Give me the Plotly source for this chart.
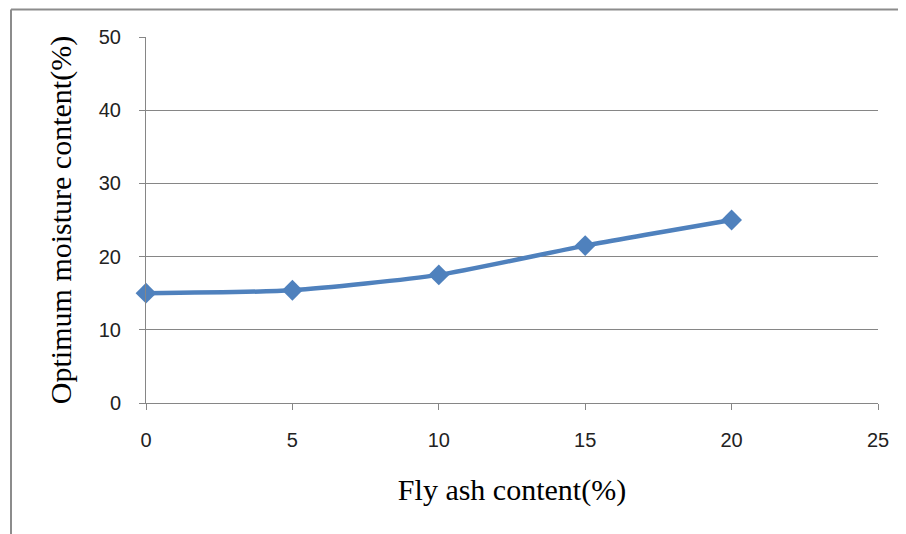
import plotly.graph_objects as go

fly_ash = [0, 5, 10, 15, 20]
moisture = [15.0, 15.4, 17.5, 21.5, 25.0]
x_ticks = [0, 5, 10, 15, 20, 25]
y_ticks = [0, 10, 20, 30, 40, 50]

# the page body adds an 8px offset, so the figure is sized to fill the rest
W, H = 898, 526
L, R, T, B = 138, 28, 29, 131
pw, ph = W - L - R, H - T - B

def px(xp):
    return (xp - L) / pw

def py(yp):
    return (H - B - yp) / ph

fig = go.Figure()
fig.add_trace(go.Scatter(
    x=fly_ash, y=moisture, mode="lines+markers",
    line=dict(color="#4F81BD", width=4.5, shape="spline", smoothing=0.6),
    marker=dict(symbol="diamond", size=16, color="#4F81BD"),
    showlegend=False, cliponaxis=False,
))

axis_font = dict(family="Liberation Sans", size=20, color="#222222")
title_font = dict(family="Liberation Serif", size=30, color="#000000")

fig.update_layout(
    width=W, height=H,
    margin=dict(l=L, r=R, t=T, b=B),
    paper_bgcolor="white", plot_bgcolor="white",
    xaxis=dict(
        range=[0, 25], tickvals=x_ticks, ticktext=[str(v) for v in x_ticks],
        showgrid=False, zeroline=False, showline=True, linecolor="#868686", linewidth=1,
        ticks="outside", ticklen=6, tickcolor="#868686", tickfont=axis_font,
        ticklabelstandoff=13,
        title=dict(text="Fly ash content(%)", font=title_font, standoff=28),
    ),
    yaxis=dict(
        range=[0, 50], tickvals=y_ticks, ticktext=[str(v) for v in y_ticks],
        showgrid=True, gridcolor="#868686", gridwidth=1,
        zeroline=False, showline=True, linecolor="#868686", linewidth=1,
        ticks="outside", ticklen=6, tickcolor="#868686", tickfont=axis_font,
        ticklabelstandoff=14,
        title=dict(text="Optimum moisture content(%)", font=title_font, standoff=18),
    ),
    shapes=[
        dict(type="line", xref="paper", yref="paper", x0=px(3), x1=px(W), y0=py(1.5), y1=py(1.5),
             line=dict(color="#8c8c8c", width=2)),
        dict(type="line", xref="paper", yref="paper", x0=px(3), x1=px(3), y0=py(1.5), y1=py(H),
             line=dict(color="#8c8c8c", width=2)),
    ],
)

fig.write_html("out.html")
